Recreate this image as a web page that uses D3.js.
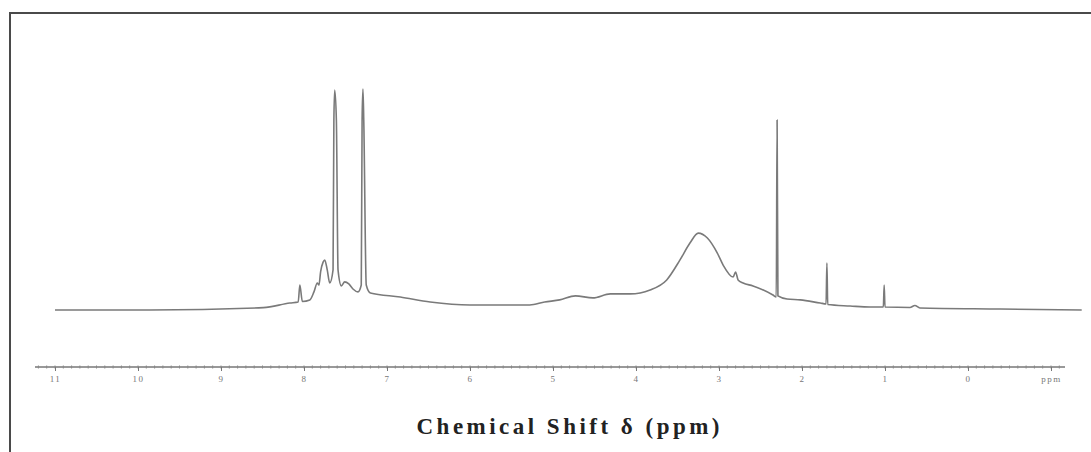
<!DOCTYPE html>
<html>
<head>
<meta charset="utf-8">
<script src="https://cdn.jsdelivr.net/npm/d3@7"></script>
<style>
  body { margin: 0; background: #fff; }
</style>
</head>
<body>
<div id="chart"></div>
<script>
// spectrum points (ppm, relative intensity)
var shiftPpm = [11.0, 9.86, 8.49, 8.17, 8.07, 8.05, 8.02, 7.93, 7.88, 7.84, 7.82, 7.80, 7.77, 7.75, 7.72, 7.69,
    7.65, 7.64, 7.63, 7.61, 7.59, 7.55, 7.51, 7.46, 7.41, 7.35, 7.31, 7.30, 7.29, 7.28, 7.25, 7.20,
    6.84, 6.48, 6.00, 5.28, 5.10, 4.92, 4.73, 4.52, 4.31, 4.07, 3.83, 3.63, 3.47, 3.35, 3.25, 3.14,
    3.02, 2.95, 2.83, 2.80, 2.77, 2.71, 2.59, 2.35, 2.31, 2.30, 2.29, 2.18, 2.02, 1.78, 1.71, 1.70,
    1.69, 1.42, 1.18, 1.02, 1.01, 1.00, 0.70, 0.64, 0.58, -0.39, -1.37];
var intensity = [0.45, 0.45, 1.5, 3.6, 4.05, 11.7, 4.3, 5.0, 8.6, 12.6, 11.7, 17.6, 22, 23, 18.5, 12.6,
    18.5, 86, 99.5, 86, 18.5, 11.3, 13.1, 12.2, 9.9, 8.6, 11.7, 86, 100, 86, 11.7, 8.1,
    6.3, 4.05, 2.7, 2.7, 4.05, 5.0, 6.8, 5.9, 7.7, 7.7, 9.5, 14.0, 23, 30.6, 35.1, 32.9,
    26.1, 20.7, 15.3, 17.6, 14, 12.6, 11.3, 7.2, 6.3, 86, 6.8, 5.4, 5.0, 3.6, 3.2, 21.6,
    2.9, 2.25, 1.8, 1.8, 11.7, 1.8, 1.6, 2.5, 1.35, 0.9, 0.45];
var majorTicks = [11, 10, 9, 8, 7, 6, 5, 4, 3, 2, 1, 0, -1];
var tickLabels = ["11", "10", "9", "8", "7", "6", "5", "4", "3", "2", "1", "0", "ppm"];
var axisTitle = "Chemical Shift \u03b4 (ppm)";

var width = 1091;
var height = 452;

var svg = d3.select("#chart")
    .append("svg")
    .attr("width", width)
    .attr("height", height);

// frame
svg.append("rect")
    .attr("x", 10)
    .attr("y", 13)
    .attr("width", 1100)
    .attr("height", 460)
    .style("fill", "none")
    .style("stroke", "#4a4a4a")
    .style("stroke-width", 2);

var x = d3.scaleLinear().domain([11, 0]).range([55, 968]);
var y = d3.scaleLinear().domain([0, 100]).range([311, 89]);

var pts = shiftPpm.map(function (d, i) { return [d, intensity[i]]; });

var line = d3.line()
    .x(function (d) { return x(d[0]); })
    .y(function (d) { return y(d[1]); })
    .curve(d3.curveMonotoneX);

svg.append("path")
    .datum(pts)
    .attr("d", line)
    .style("fill", "none")
    .style("stroke", "#7a7a7a")
    .style("stroke-width", 1.6)
    .style("stroke-linejoin", "round");

// ppm axis
var axisY = 367;
var axisG = svg.append("g").attr("transform", "translate(0," + axisY + ")");

axisG.append("line")
    .attr("x1", 35)
    .attr("x2", 1065)
    .style("stroke", "#777")
    .style("stroke-width", 1.4);

var minorTicks = d3.range(-11, 113).map(function (d) { return d / 10; });
axisG.selectAll(".minor")
    .data(minorTicks)
    .enter().append("line")
    .attr("class", "minor")
    .attr("x1", function (d) { return x(d); })
    .attr("x2", function (d) { return x(d); })
    .attr("y1", -1.5)
    .attr("y2", 1.5)
    .style("stroke", "#888")
    .style("stroke-width", 1);

var axis = d3.axisBottom(x)
    .tickValues(majorTicks)
    .tickSize(4)
    .tickPadding(5)
    .tickFormat(function (d, i) { return tickLabels[i]; });

var ax = axisG.append("g").call(axis);
ax.select(".domain").remove();
ax.selectAll(".tick line").style("stroke", "#777");
ax.selectAll(".tick text")
    .style("fill", "#777")
    .style("font-family", "'Liberation Serif', 'DejaVu Serif', serif")
    .style("font-size", "9px")
    .style("letter-spacing", "1.5px");

// axis title
svg.append("text")
    .attr("x", 568)
    .attr("y", 434)
    .attr("text-anchor", "middle")
    .attr("textLength", 303)
    .attr("lengthAdjust", "spacing")
    .style("font-family", "'Liberation Serif', 'Times New Roman', serif")
    .style("font-weight", "bold")
    .style("font-size", "23px")
    .style("fill", "#222")
    .text(axisTitle);
</script>
</body>
</html>
